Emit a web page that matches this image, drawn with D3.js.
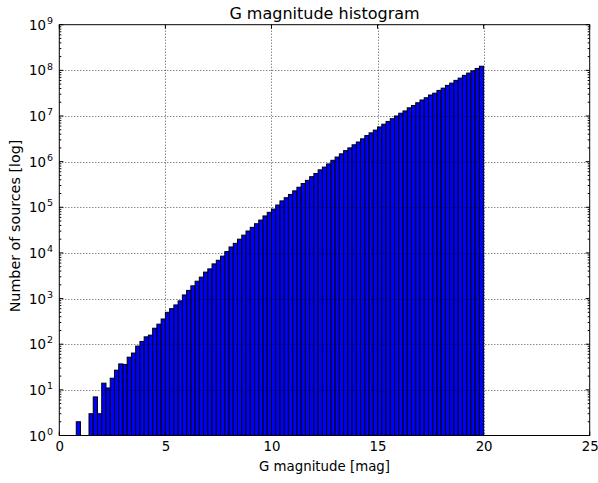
<!DOCTYPE html>
<html>
<head>
<meta charset="utf-8">
<script src="https://cdn.jsdelivr.net/npm/d3@7"></script>
<style>
  html, body { margin: 0; padding: 0; background: #fff; }
  svg { display: block; font-family: "DejaVu Sans", sans-serif; }
</style>
</head>
<body>
<svg id="chart" width="598" height="483"></svg>
<script>
// ---- data ----
const binWidth = 0.2;
const binLow = [
  0.8, 1.0, 1.2, 1.4, 1.6, 1.8, 2.0, 2.2, 2.4, 2.6, 2.8, 3.0, 3.2, 3.4, 3.6, 3.8,
  4.0, 4.2, 4.4, 4.6, 4.8, 5.0, 5.2, 5.4, 5.6, 5.8, 6.0, 6.2, 6.4, 6.6, 6.8, 7.0,
  7.2, 7.4, 7.6, 7.8, 8.0, 8.2, 8.4, 8.6, 8.8, 9.0, 9.2, 9.4, 9.6, 9.8, 10.0, 10.2,
  10.4, 10.6, 10.8, 11.0, 11.2, 11.4, 11.6, 11.8, 12.0, 12.2, 12.4, 12.6, 12.8, 13.0,
  13.2, 13.4, 13.6, 13.8, 14.0, 14.2, 14.4, 14.6, 14.8, 15.0, 15.2, 15.4, 15.6, 15.8,
  16.0, 16.2, 16.4, 16.6, 16.8, 17.0, 17.2, 17.4, 17.6, 17.8, 18.0, 18.2, 18.4, 18.6,
  18.8, 19.0, 19.2, 19.4, 19.6, 19.8
];
const counts = [
  2, 0, 0, 3, 7, 3, 14, 11, 18, 27, 37, 36, 52, 64, 91, 115,
  145, 158, 224, 275, 357, 500, 600, 725, 890, 1200, 1510, 1900, 2400, 2950, 3800, 4470,
  5750, 6900, 8500, 10700, 13500, 16200, 20000, 24500, 30200, 36300, 43600, 52500, 64600, 77600, 91200, 112000,
  138000, 162000, 191000, 229000, 275000, 331000, 389000, 468000, 550000, 661000, 759000, 891000, 1070000, 1260000,
  1480000, 1740000, 2000000, 2340000, 2690000, 3160000, 3720000, 4270000, 4900000, 5750000, 6610000, 7590000, 8710000, 10000000,
  11500000, 12900000, 15100000, 17000000, 19500000, 22400000, 25100000, 28800000, 31600000, 36300000, 40700000, 46800000, 52500000, 60300000,
  67600000, 77600000, 87100000, 97700000, 110000000, 123000000
];
const xTicks = [0, 5, 10, 15, 20, 25];
const yExponents = [0, 1, 2, 3, 4, 5, 6, 7, 8, 9];
const titleText = "G magnitude histogram";
const xLabelText = "G magnitude [mag]";
const yLabelText = "Number of sources [log]";

// ---- layout ----
const svg = d3.select("#chart");
const L = 59.3, R = 589.7, T = 24.7, B = 435.5;
const x = d3.scaleLinear().domain([0, 25]).range([L, R]);
const y = d3.scaleLog().domain([1, 1e9]).range([B, T]);

const data = binLow.map((lo, i) => ({ lo, hi: lo + binWidth, n: counts[i] }));

// bars
svg.append("g").selectAll("rect")
  .data(data.filter(d => d.n > 0))
  .join("rect")
  .attr("x", d => x(d.lo))
  .attr("width", d => x(d.hi) - x(d.lo))
  .attr("y", d => y(d.n))
  .attr("height", d => y(1) - y(d.n))
  .attr("fill", "#0000ff")
  .attr("stroke", "#000")
  .attr("stroke-width", 1);

// grid (drawn above bars, dotted)
const majors = yExponents.map(e => Math.pow(10, e));
const grid = svg.append("g").attr("stroke", "#000").attr("stroke-width", 0.8)
  .attr("stroke-dasharray", "1,2").attr("opacity", 0.85);
grid.selectAll("line.gx").data(xTicks.filter(t => t > 0 && t < 25)).join("line")
  .attr("x1", d => Math.round(x(d)) + 0.5).attr("x2", d => Math.round(x(d)) + 0.5)
  .attr("y1", T).attr("y2", B);
grid.selectAll("line.gy").data(majors.filter(v => v > 1 && v < 1e9)).join("line")
  .attr("x1", L).attr("x2", R)
  .attr("y1", d => Math.round(y(d)) + 0.5).attr("y2", d => Math.round(y(d)) + 0.5);

// minor tick values
const minors = [];
for (let e = 0; e < 9; e++) for (let k = 2; k <= 9; k++) minors.push(k * Math.pow(10, e));

// ticks (inward)
const tickG = svg.append("g").attr("stroke", "#000").attr("stroke-width", 1);
xTicks.forEach(t => {
  tickG.append("line").attr("x1", x(t)).attr("x2", x(t)).attr("y1", B).attr("y2", B - 4);
  tickG.append("line").attr("x1", x(t)).attr("x2", x(t)).attr("y1", T).attr("y2", T + 4);
});
majors.forEach(v => {
  tickG.append("line").attr("x1", L).attr("x2", L + 4).attr("y1", y(v)).attr("y2", y(v));
  tickG.append("line").attr("x1", R).attr("x2", R - 4).attr("y1", y(v)).attr("y2", y(v));
});
minors.forEach(v => {
  tickG.append("line").attr("x1", L).attr("x2", L + 2).attr("y1", y(v)).attr("y2", y(v));
  tickG.append("line").attr("x1", R).attr("x2", R - 2).attr("y1", y(v)).attr("y2", y(v));
});

// frame
svg.append("rect").attr("x", L).attr("y", T).attr("width", R - L).attr("height", B - T)
  .attr("fill", "none").attr("stroke", "#000").attr("stroke-width", 1);

// x tick labels via d3 axis (lines hidden)
const xAxis = d3.axisBottom(x).tickValues(xTicks).tickSize(0).tickPadding(6).tickFormat(d3.format("d"));
const xg = svg.append("g").attr("transform", `translate(0,${B})`).call(xAxis);
xg.select(".domain").remove();
xg.selectAll("text").attr("font-size", "13.33px").attr("font-family", "DejaVu Sans").attr("fill", "#000");

// y tick labels 10^e
const yl = svg.append("g").attr("font-size", "13.33px").attr("fill", "#000");
yExponents.forEach(e => {
  const t = yl.append("text").attr("x", 53).attr("y", y(Math.pow(10, e)) + 5)
    .attr("text-anchor", "end");
  t.append("tspan").text("10");
  t.append("tspan").attr("font-size", "9.5px").attr("dy", -5.8).attr("dx", 1).text(String(e));
});

// title and axis labels
svg.append("text").attr("x", (L + R) / 2).attr("y", 19).attr("text-anchor", "middle")
  .attr("font-size", "16px").attr("fill", "#000").text(titleText);
svg.append("text").attr("x", (L + R) / 2).attr("y", 471).attr("text-anchor", "middle")
  .attr("font-size", "13.33px").attr("fill", "#000").text(xLabelText);
svg.append("text").attr("transform", `translate(19.5,226) rotate(-90)`)
  .attr("text-anchor", "middle").attr("font-size", "14.3px").attr("fill", "#000").text(yLabelText);
</script>
</body>
</html>
